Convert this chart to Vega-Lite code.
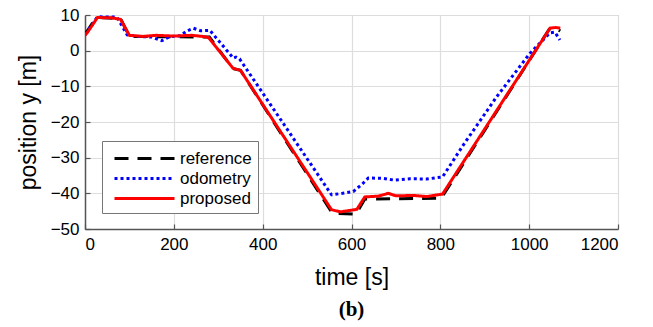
{
  "$schema": "https://vega.github.io/schema/vega-lite/v6.json",
  "width": 533,
  "height": 214,
  "autosize": {"type": "none"},
  "padding": {"left": 85, "top": 15, "right": 35, "bottom": 98},
  "background": "white",
  "title": {"text": "(b)", "orient": "bottom", "anchor": "middle", "font": "Liberation Serif", "fontWeight": "bold", "fontSize": 21, "color": "black", "offset": 10},
  "config": {
    "view": {"stroke": "#bbbbbb", "strokeWidth": 1},
    "axis": {
      "labelFont": "Liberation Sans", "labelFontSize": 17, "labelColor": "black",
      "titleFont": "Liberation Sans", "titleFontSize": 23, "titleFontWeight": "normal", "titleColor": "black",
      "gridColor": "#dddddd", "gridWidth": 1.2, "domainColor": "#555555", "domainWidth": 1.5,
      "tickColor": "#555555", "tickSize": -5, "tickWidth": 1.2
    },
    "legend": {
      "labelFont": "Liberation Sans", "labelFontSize": 17, "labelColor": "black"
    }
  },
  "data": {
    "values": [
      {"series": "reference", "t": 0, "y": 4.5},
      {"series": "reference", "t": 25, "y": 9.3},
      {"series": "reference", "t": 80, "y": 9.0},
      {"series": "reference", "t": 100, "y": 4.0},
      {"series": "reference", "t": 280, "y": 3.8},
      {"series": "reference", "t": 333, "y": -5.0},
      {"series": "reference", "t": 350, "y": -5.5},
      {"series": "reference", "t": 557, "y": -45.6},
      {"series": "reference", "t": 610, "y": -45.8},
      {"series": "reference", "t": 630, "y": -41.6},
      {"series": "reference", "t": 802, "y": -41.4},
      {"series": "reference", "t": 1045, "y": 6.0},
      {"series": "reference", "t": 1060, "y": 6.3},
      {"series": "reference", "t": 1070, "y": 5.5},

      {"series": "odometry", "t": 0, "y": 4.5},
      {"series": "odometry", "t": 28, "y": 9.5},
      {"series": "odometry", "t": 72, "y": 9.4},
      {"series": "odometry", "t": 95, "y": 4.4},
      {"series": "odometry", "t": 120, "y": 4.0},
      {"series": "odometry", "t": 150, "y": 3.8},
      {"series": "odometry", "t": 173, "y": 2.8},
      {"series": "odometry", "t": 190, "y": 3.9},
      {"series": "odometry", "t": 215, "y": 4.2},
      {"series": "odometry", "t": 229, "y": 5.5},
      {"series": "odometry", "t": 244, "y": 6.3},
      {"series": "odometry", "t": 260, "y": 5.6},
      {"series": "odometry", "t": 281, "y": 5.7},
      {"series": "odometry", "t": 334, "y": -2.1},
      {"series": "odometry", "t": 340, "y": -1.8},
      {"series": "odometry", "t": 348, "y": -2.3},
      {"series": "odometry", "t": 555, "y": -40.4},
      {"series": "odometry", "t": 580, "y": -40.0},
      {"series": "odometry", "t": 604, "y": -39.5},
      {"series": "odometry", "t": 625, "y": -37.3},
      {"series": "odometry", "t": 638, "y": -35.7},
      {"series": "odometry", "t": 670, "y": -35.8},
      {"series": "odometry", "t": 697, "y": -36.3},
      {"series": "odometry", "t": 731, "y": -35.9},
      {"series": "odometry", "t": 769, "y": -36.0},
      {"series": "odometry", "t": 805, "y": -35.4},
      {"series": "odometry", "t": 852, "y": -26.4},
      {"series": "odometry", "t": 927, "y": -12.9},
      {"series": "odometry", "t": 1002, "y": -0.7},
      {"series": "odometry", "t": 1047, "y": 5.0},
      {"series": "odometry", "t": 1058, "y": 5.2},
      {"series": "odometry", "t": 1069, "y": 3.0},

      {"series": "proposed", "t": 0, "y": 4.3},
      {"series": "proposed", "t": 5, "y": 5.0},
      {"series": "proposed", "t": 28, "y": 9.3},
      {"series": "proposed", "t": 60, "y": 9.2},
      {"series": "proposed", "t": 80, "y": 8.8},
      {"series": "proposed", "t": 100, "y": 4.3},
      {"series": "proposed", "t": 130, "y": 4.0},
      {"series": "proposed", "t": 160, "y": 4.3},
      {"series": "proposed", "t": 200, "y": 4.1},
      {"series": "proposed", "t": 240, "y": 4.3},
      {"series": "proposed", "t": 265, "y": 4.0},
      {"series": "proposed", "t": 278, "y": 3.7},
      {"series": "proposed", "t": 333, "y": -4.9},
      {"series": "proposed", "t": 340, "y": -5.2},
      {"series": "proposed", "t": 350, "y": -5.5},
      {"series": "proposed", "t": 555, "y": -44.6},
      {"series": "proposed", "t": 575, "y": -45.2},
      {"series": "proposed", "t": 612, "y": -44.5},
      {"series": "proposed", "t": 630, "y": -41.0},
      {"series": "proposed", "t": 660, "y": -40.8},
      {"series": "proposed", "t": 683, "y": -40.0},
      {"series": "proposed", "t": 700, "y": -40.7},
      {"series": "proposed", "t": 740, "y": -40.6},
      {"series": "proposed", "t": 770, "y": -40.9},
      {"series": "proposed", "t": 805, "y": -40.2},
      {"series": "proposed", "t": 1047, "y": 6.3},
      {"series": "proposed", "t": 1060, "y": 6.5},
      {"series": "proposed", "t": 1070, "y": 6.3}
    ]
  },
  "mark": {"type": "line", "clip": true},
  "encoding": {
    "x": {
      "field": "t", "type": "quantitative",
      "scale": {"domain": [0, 1200], "nice": false},
      "axis": {"values": [0, 200, 400, 600, 800, 1000, 1200], "format": "d", "title": "time [s]", "labelPadding": 12, "titleY": 48, "titleBaseline": "middle"}
    },
    "y": {
      "field": "y", "type": "quantitative",
      "scale": {"domain": [-50, 10], "nice": false},
      "axis": {"values": [-50, -40, -30, -20, -10, 0, 10], "title": "position y [m]", "labelPadding": 11, "titleX": -57, "titleY": 107, "titleAngle": -90, "titleBaseline": "middle", "titleAlign": "center"}
    },
    "color": {
      "field": "series", "type": "nominal",
      "scale": {"domain": ["reference", "odometry", "proposed"], "range": ["#000000", "#0000ff", "#ff0000"]},
      "legend": {
        "title": null, "orient": "none", "legendX": 17, "legendY": 126,
        "symbolType": "M-0.5,0H5.5", "symbolSize": 400, "labelOffset": 49,
        "strokeColor": "#777777", "fillColor": "white", "padding": 6,
        "rowPadding": 0, "symbolStrokeWidth": 3
      }
    },
    "strokeDash": {
      "field": "series", "type": "nominal",
      "scale": {"domain": ["reference", "odometry", "proposed"], "range": [[14, 9], [3, 3], [1, 0]]},
      "legend": {
        "title": null, "orient": "none", "legendX": 17, "legendY": 126,
        "symbolType": "M-0.5,0H5.5", "symbolSize": 400, "labelOffset": 49,
        "strokeColor": "#777777", "fillColor": "white", "padding": 6,
        "rowPadding": 0, "symbolStrokeWidth": 3
      }
    },
    "strokeWidth": {
      "field": "series", "type": "nominal",
      "scale": {"domain": ["reference", "odometry", "proposed"], "range": [3, 3, 3.5]},
      "legend": null
    }
  }
}
